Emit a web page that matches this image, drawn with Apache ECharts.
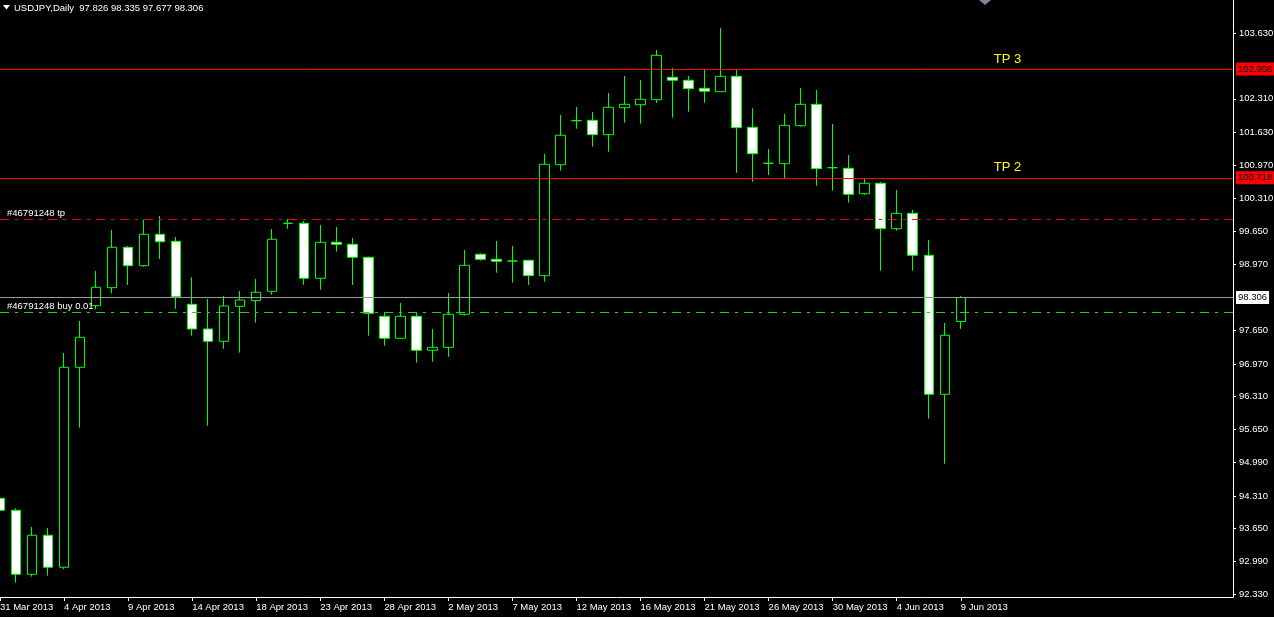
<!DOCTYPE html>
<html>
<head>
<meta charset="utf-8">
<title>USDJPY,Daily</title>
<script src="https://cdn.jsdelivr.net/npm/echarts@6/dist/echarts.min.js"></script>
<style>
html, body { margin: 0; padding: 0; background: #000; }
#main { width: 1274px; height: 617px; }
</style>
</head>
<body>
<div id="main"></div>
<script>
// daily bars, broker sends Sunday bars (no Saturdays)
const dates = [
  '31 Mar 2013', '1 Apr 2013', '2 Apr 2013', '3 Apr 2013', '4 Apr 2013', '5 Apr 2013',
  '7 Apr 2013', '8 Apr 2013', '9 Apr 2013', '10 Apr 2013', '11 Apr 2013', '12 Apr 2013',
  '14 Apr 2013', '15 Apr 2013', '16 Apr 2013', '17 Apr 2013', '18 Apr 2013', '19 Apr 2013',
  '21 Apr 2013', '22 Apr 2013', '23 Apr 2013', '24 Apr 2013', '25 Apr 2013', '26 Apr 2013',
  '28 Apr 2013', '29 Apr 2013', '30 Apr 2013', '1 May 2013', '2 May 2013', '3 May 2013',
  '5 May 2013', '6 May 2013', '7 May 2013', '8 May 2013', '9 May 2013', '10 May 2013',
  '12 May 2013', '13 May 2013', '14 May 2013', '15 May 2013', '16 May 2013', '17 May 2013',
  '19 May 2013', '20 May 2013', '21 May 2013', '22 May 2013', '23 May 2013', '24 May 2013',
  '26 May 2013', '27 May 2013', '28 May 2013', '29 May 2013', '30 May 2013', '31 May 2013',
  '2 Jun 2013', '3 Jun 2013', '4 Jun 2013', '5 Jun 2013', '6 Jun 2013', '7 Jun 2013',
  '9 Jun 2013'
];

const opens = [
  94.264, 94.022, 92.733, 93.519, 92.874, 96.902, 98.143, 98.506, 99.320, 98.949,
  99.581, 99.440, 98.171, 97.674, 97.426, 98.131, 98.244, 98.433, 99.803, 99.803,
  98.695, 99.420, 99.380, 99.118, 97.930, 97.487, 97.930, 97.245, 97.305, 97.970,
  99.179, 99.078, 99.044, 99.058, 98.748, 100.983, 101.870, 101.878, 101.588, 102.132,
  102.192, 102.293, 102.744, 102.684, 102.522, 102.454, 102.764, 101.737, 101.012, 101.004,
  101.769, 102.200, 100.923, 100.911, 100.399, 100.609, 99.694, 100.004, 99.158, 96.359,
  97.826
];
const highs = [
  94.391, 94.062, 93.686, 93.665, 97.191, 97.835, 98.842, 99.668, 99.346, 99.876,
  99.950, 99.527, 98.715, 98.278, 98.339, 98.439, 98.681, 99.688, 99.890, 99.849,
  99.769, 99.729, 99.507, 99.130, 98.010, 98.198, 98.010, 97.674, 98.399, 99.265,
  99.199, 99.447, 99.346, 99.070, 101.199, 101.985, 102.146, 102.045, 102.428, 102.770,
  102.690, 103.294, 102.931, 102.770, 102.891, 103.740, 102.891, 102.120, 101.300, 102.005,
  102.528, 102.488, 101.803, 101.179, 100.701, 100.635, 100.474, 100.071, 99.467, 97.795,
  98.335
];
const lows = [
  93.833, 92.564, 92.685, 92.705, 92.833, 95.686, 98.071, 98.393, 98.560, 98.929,
  99.084, 98.083, 97.539, 95.726, 97.277, 97.197, 97.801, 98.365, 99.694, 98.566,
  98.466, 99.231, 98.560, 97.539, 97.338, 97.480, 96.995, 97.015, 97.116, 97.942,
  99.050, 98.808, 98.607, 98.560, 98.627, 100.863, 101.709, 101.346, 101.245, 101.829,
  101.809, 102.232, 101.930, 102.051, 102.232, 102.450, 100.822, 100.641, 100.776, 100.716,
  101.749, 100.560, 100.460, 100.218, 100.379, 98.848, 99.654, 98.848, 95.867, 94.961,
  97.677
];
const closes = [
  94.022, 92.733, 93.519, 92.874, 96.902, 97.507, 98.514, 99.320, 98.949, 99.581,
  99.432, 98.325, 97.674, 97.426, 98.137, 98.258, 98.413, 99.481, 99.803, 98.695,
  99.420, 99.380, 99.118, 97.990, 97.487, 97.930, 97.245, 97.305, 97.970, 98.957,
  99.078, 99.038, 99.044, 98.748, 100.992, 101.576, 101.870, 101.588, 102.140, 102.200,
  102.301, 103.187, 102.684, 102.514, 102.462, 102.764, 101.729, 101.205, 101.012, 101.777,
  102.200, 100.903, 100.923, 100.387, 100.609, 99.694, 100.004, 99.158, 96.359, 97.547,
  98.306
];

// price scale labels as printed by the terminal
const priceTicks = [92.330, 92.990, 93.650, 94.310, 94.990, 95.650, 96.310, 96.970, 97.650,
  98.970, 99.650, 100.310, 100.970, 101.630, 102.310, 103.630];

// horizontal levels
const tp3 = 102.908;
const tp2 = 100.718;
const orderTp = 99.883;
const orderOpen = 98.010;
const bid = closes[closes.length - 1];
const orderId = '#46791248';

const emptyBars = 17; // free space on the right of the last bar
const categories = dates.concat(new Array(emptyBars).fill(''));
const candles = dates.map((d, i) => [opens[i], closes[i], lows[i], highs[i]]);

const last = opens.length - 1;
const header = 'USDJPY,Daily  ' + [opens[last], highs[last], lows[last], closes[last]].map(v => v.toFixed(3)).join(' ');

const FONT = 'Liberation Sans';
const showEvery4 = (i, v) => i % 4 === 0 && v !== '';

function priceBox(value, bg) {
  return {
    show: true, position: 'end', distance: 3, formatter: value.toFixed(3),
    backgroundColor: bg, color: '#000', padding: [2, 2, 1, 2], fontSize: 9.5, fontFamily: FONT
  };
}

const chart = echarts.init(document.getElementById('main'));
chart.setOption({
  backgroundColor: '#000',
  animation: false,
  title: {
    text: header,
    left: 14, top: 3, padding: 0,
    textStyle: { color: '#fff', fontSize: 9.5, fontWeight: 'normal', fontFamily: FONT }
  },
  graphic: [
    { type: 'polygon', shape: { points: [[3, 5], [10, 5], [6.5, 9.5]] }, style: { fill: '#fff' } },
    // trade arrow cut off at the top edge
    { type: 'polygon', shape: { points: [[979, 0], [991, 0], [985, 5]] }, style: { fill: '#7788a0' } }
  ],
  grid: { left: 0, right: 41, top: 0, bottom: 20, containLabel: false, outerBoundsMode: 'none' },
  xAxis: {
    type: 'category',
    data: categories,
    boundaryGap: false,
    axisLine: { lineStyle: { color: '#fff', width: 1 } },
    axisTick: { length: 4, interval: showEvery4, lineStyle: { color: '#fff' } },
    axisLabel: {
      interval: showEvery4, align: 'left', color: '#fff',
      fontSize: 9.5, fontFamily: FONT, margin: 5
    },
    splitLine: { show: false }
  },
  yAxis: {
    type: 'value',
    position: 'right',
    min: 92.275,
    max: 104.301,
    splitLine: { show: false },
    axisLine: { show: true, lineStyle: { color: '#fff', width: 1 } },
    axisTick: { show: true, length: 3, customValues: priceTicks, lineStyle: { color: '#fff' } },
    axisLabel: {
      customValues: priceTicks, formatter: v => v.toFixed(3),
      color: '#fff', fontSize: 9.5, fontFamily: FONT, margin: 6
    }
  },
  series: [{
    type: 'candlestick',
    data: candles,
    barWidth: 10,
    itemStyle: {
      color: '#000',
      color0: '#fff',
      borderColor: '#00ff00',
      borderColor0: '#00ff00',
      borderColorDoji: '#00ff00',
      borderWidth: 1
    },
    markLine: {
      symbol: 'none',
      silent: true,
      animation: false,
      data: [
        { yAxis: tp3, lineStyle: { color: '#ff0000', type: 'solid', width: 1 }, label: priceBox(tp3, '#ff0000') },
        { yAxis: tp2, lineStyle: { color: '#ff0000', type: 'solid', width: 1 }, label: priceBox(tp2, '#ff0000') },
        { yAxis: orderTp, lineStyle: { color: '#ff0000', type: [9, 6, 3, 6], width: 1 }, label: { show: false } },
        { yAxis: bid, lineStyle: { color: '#9a9a9a', type: 'solid', width: 1 }, label: priceBox(bid, '#fff') },
        { yAxis: orderOpen, lineStyle: { color: '#22d022', type: [9, 6, 3, 6], width: 1 }, label: { show: false } }
      ]
    },
    markPoint: {
      symbol: 'circle',
      symbolSize: 0,
      silent: true,
      animation: false,
      data: [
        { coord: [62, tp3], label: { formatter: 'TP 3', position: 'right', distance: 1, offset: [0, -10],
          color: '#ffff00', fontSize: 13, fontFamily: FONT } },
        { coord: [62, tp2], label: { formatter: 'TP 2', position: 'right', distance: 1, offset: [0, -10],
          color: '#ffff00', fontSize: 13, fontFamily: FONT } },
        { coord: [0, orderTp], label: { formatter: orderId + ' tp', position: 'right', distance: 7, offset: [0, -6],
          color: '#fff', fontSize: 9.5, fontFamily: FONT } },
        { coord: [0, orderOpen], label: { formatter: orderId + ' buy 0.01', position: 'right', distance: 7, offset: [0, -6],
          color: '#fff', fontSize: 9.5, fontFamily: FONT } }
      ]
    }
  }]
});
</script>
</body>
</html>
